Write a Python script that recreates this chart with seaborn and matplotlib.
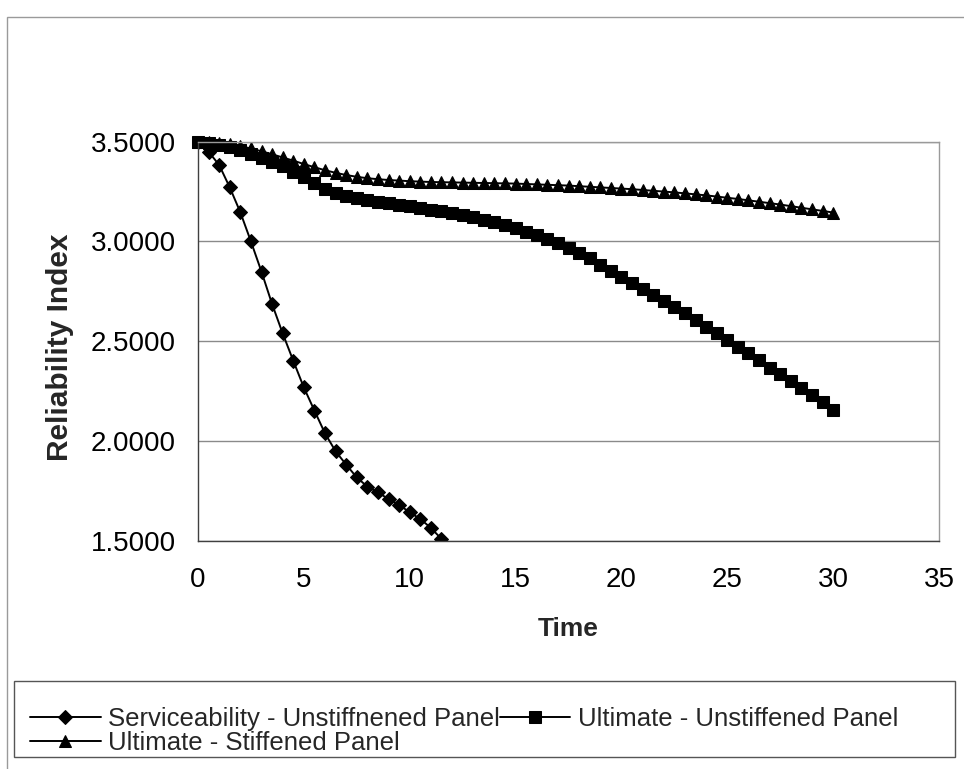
import matplotlib
matplotlib.use("Agg")
import matplotlib.pyplot as plt
from matplotlib.patches import Rectangle
from matplotlib.ticker import FormatStrFormatter
import pandas as pd
import seaborn as sns

# Reliability index over time for the three limit states
time_serv = [0, 0.5, 1, 1.5, 2, 2.5, 3, 3.5, 4, 4.5, 5, 5.5, 6, 6.5, 7, 7.5,
             8, 8.5, 9, 9.5, 10, 10.5, 11, 11.5, 12]
beta_serv = [3.500, 3.450, 3.383, 3.271, 3.146, 3.000, 2.848, 2.686, 2.539,
             2.402, 2.268, 2.152, 2.038, 1.948, 1.881, 1.817, 1.771, 1.742,
             1.709, 1.680, 1.642, 1.609, 1.564, 1.509, 1.450]

time_ult = [0, 0.5, 1, 1.5, 2, 2.5, 3, 3.5, 4, 4.5, 5, 5.5, 6, 6.5, 7, 7.5,
            8, 8.5, 9, 9.5, 10, 10.5, 11, 11.5, 12, 12.5, 13, 13.5, 14, 14.5,
            15, 15.5, 16, 16.5, 17, 17.5, 18, 18.5, 19, 19.5, 20, 20.5, 21,
            21.5, 22, 22.5, 23, 23.5, 24, 24.5, 25, 25.5, 26, 26.5, 27, 27.5,
            28, 28.5, 29, 29.5, 30]
beta_unstiff = [3.500, 3.495, 3.485, 3.472, 3.457, 3.440, 3.420, 3.400, 3.376,
                3.350, 3.322, 3.292, 3.264, 3.242, 3.227, 3.216, 3.208, 3.200,
                3.192, 3.184, 3.176, 3.168, 3.160, 3.152, 3.143, 3.133, 3.122,
                3.110, 3.097, 3.082, 3.066, 3.049, 3.031, 3.011, 2.990, 2.967,
                2.942, 2.915, 2.884, 2.852, 2.820, 2.790, 2.764, 2.732, 2.699,
                2.670, 2.640, 2.606, 2.573, 2.540, 2.506, 2.470, 2.439, 2.405,
                2.368, 2.338, 2.300, 2.264, 2.230, 2.196, 2.155]
beta_stiff = [3.500, 3.498, 3.494, 3.487, 3.478, 3.466, 3.452, 3.437, 3.421,
              3.405, 3.388, 3.372, 3.357, 3.344, 3.333, 3.324, 3.317, 3.312,
              3.308, 3.305, 3.302, 3.300, 3.298, 3.297, 3.296, 3.295, 3.294,
              3.293, 3.292, 3.291, 3.290, 3.288, 3.286, 3.284, 3.282, 3.280,
              3.277, 3.274, 3.271, 3.268, 3.265, 3.262, 3.258, 3.254, 3.250,
              3.246, 3.241, 3.236, 3.231, 3.225, 3.219, 3.213, 3.206, 3.199,
              3.192, 3.185, 3.177, 3.169, 3.161, 3.153, 3.145]

labels = ["Serviceability - Unstiffnened Panel",
          "Ultimate - Unstiffened Panel",
          "Ultimate - Stiffened Panel"]
x_ticks = [0, 5, 10, 15, 20, 25, 30, 35]
y_ticks = [1.5, 2.0, 2.5, 3.0, 3.5]

sns.set_style("white")
plt.rcParams["font.family"] = ["Liberation Sans", "DejaVu Sans"]

W, H = 964, 769
fig = plt.figure(figsize=(W / 100, H / 100), dpi=100)
ax = fig.add_axes([198 / W, 1 - 540.7 / H, (939 - 198) / W, (540.7 - 141.7) / H])

# outer chart frame and legend box
fig.patches.append(Rectangle((7 / W, -0.05), 1.1, 1 - 17 / H + 0.05,
                             transform=fig.transFigure, fill=False,
                             edgecolor="#9a9a9a", lw=1.0, zorder=0))
fig.patches.append(Rectangle((14 / W, 1 - 757 / H), (955 - 14) / W, (757 - 681) / H,
                             transform=fig.transFigure, fill=False,
                             edgecolor="#555555", lw=1.0, zorder=0))

df_serv = pd.DataFrame({"Time": time_serv, "beta": beta_serv})
df_ult = pd.DataFrame({"Time": time_ult, "unstiff": beta_unstiff, "stiff": beta_stiff})

common = dict(color="black", linewidth=1.4, markeredgecolor="black",
              markerfacecolor="black", estimator=None, sort=False, ax=ax)
sns.lineplot(data=df_serv, x="Time", y="beta", marker="D", markersize=6.7,
             label=labels[0], **common)
sns.lineplot(data=df_ult, x="Time", y="unstiff", marker="s", markersize=8,
             label=labels[1], clip_on=False, **common)
sns.lineplot(data=df_ult, x="Time", y="stiff", marker="^", markersize=9,
             label=labels[2], clip_on=False, **common)

ax.set_xlim(0, 35)
ax.set_ylim(1.5, 3.5)
ax.set_xticks(x_ticks)
ax.set_yticks(y_ticks)
ax.yaxis.set_major_formatter(FormatStrFormatter("%.4f"))
ax.grid(axis="y", color="#8a8a8a", linewidth=1.0)
ax.grid(axis="x", visible=False)
ax.set_axisbelow(True)
for side in ("top", "right"):
    ax.spines[side].set_color("#9a9a9a")
for side in ("left", "bottom"):
    ax.spines[side].set_color("#404040")
for sp in ax.spines.values():
    sp.set_linewidth(1.0)
    sp.set_visible(True)

ax.tick_params(axis="both", which="major", direction="out", length=4,
               width=1, color="#404040", labelsize=20, labelcolor="black")
ax.tick_params(axis="x", pad=15)
ax.tick_params(axis="y", pad=12)

ax.set_xlabel("Time", fontsize=19, fontweight="bold")
ax.set_ylabel("Reliability Index", fontsize=21.5, fontweight="bold")
ax.xaxis.set_label_coords(0.5, -0.19)
ax.yaxis.set_label_coords(-0.168, 0.485)

# legend laid out row by row: two entries on the first line, one on the second
handles, lbls = ax.get_legend_handles_labels()
order = [0, 2, 1]
if ax.legend_:
    ax.legend_.remove()
fig.legend([handles[i] for i in order], [lbls[i] for i in order],
           ncol=2, loc="upper left", bbox_to_anchor=(30 / W, 1 - 707 / H),
           frameon=False, fontsize=18.5, handlelength=2.75, handletextpad=0.28,
           columnspacing=0.0, labelspacing=0.0, borderpad=0, borderaxespad=0)

fig.savefig("out.png", dpi=100, facecolor="white")
